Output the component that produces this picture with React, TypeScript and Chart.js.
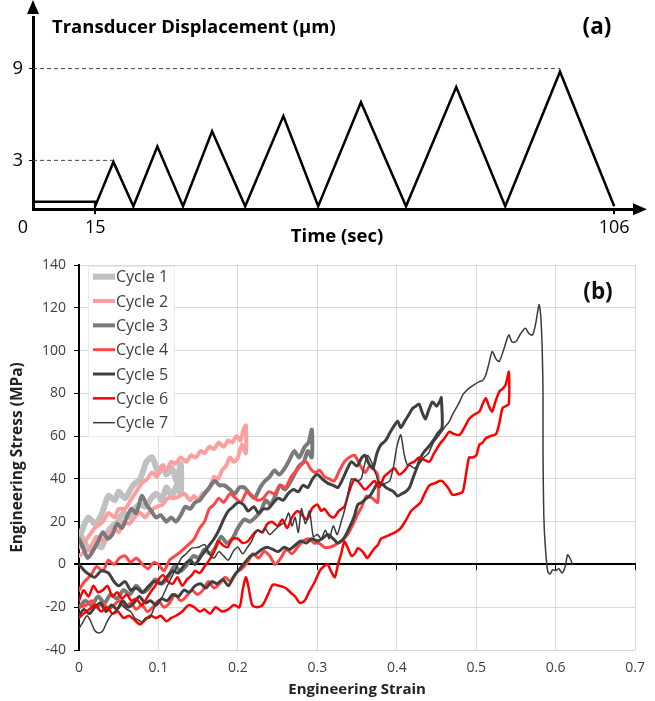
import React, { useEffect, useRef } from "react";
import { Chart, registerables } from "chart.js";

Chart.register(...registerables);

const FONT = "'Open Sans', 'DejaVu Sans', sans-serif";

// ---------- Panel (a): transducer displacement vs time ----------
const timeSec = [4.1, 15, 15, 18.2, 21.7, 25.9, 30.4, 35.5, 41.3, 48.0, 54.1, 61.6, 69.5, 78.3, 86.9, 96.5, 106];
const displacementUm = [0.3, 0.3, 0, 2.9, 0, 3.9, 0, 4.9, 0, 5.9, 0, 6.8, 0, 7.8, 0, 8.8, 0];
const refLevels = [3, 9];
const refEndTimes = [18.2, 96.5];
const timeTicks = [15, 106];
const dispTicks = [3, 9];

// ---------- Panel (b): engineering stress vs strain ----------
const cycleLabels = ["Cycle 1", "Cycle 2", "Cycle 3", "Cycle 4", "Cycle 5", "Cycle 6", "Cycle 7"];
const cycleColors = ["#c0c0c0", "#ff9e9e", "#7a7a7a", "#ff4545", "#404040", "#ff0000", "#3a3a3a"];
const cycleWidths = [6, 4, 4, 3, 3, 2.5, 1.5];
const strainTicks = [0, 0.1, 0.2, 0.3, 0.4, 0.5, 0.6, 0.7];
const stressTicks = [-40, -20, 0, 20, 40, 60, 80, 100, 120, 140];

const cycle1Strain = [0, 0.006, 0.012, 0.02, 0.028, 0.037, 0.045, 0.05, 0.058, 0.068, 0.077, 0.085, 0.092, 0.1, 0.106, 0.11, 0.117, 0.123, 0.128, 0.128, 0.123, 0.117, 0.11, 0.104, 0.098, 0.091, 0.084, 0.077, 0.07, 0.063, 0.056, 0.049, 0.042, 0.036, 0.028, 0.02, 0.012, 0.005, 0];
const cycle1Stress = [12, 18, 22, 19, 23, 32, 30, 34, 31, 37, 40, 48, 50, 43, 46, 42, 45, 39, 47, 33, 37, 32, 36, 30, 33, 31, 27, 28, 26, 22, 24, 20, 18, 15, 8, 10, 7, 12, 14];

const cycle2Strain = [0, 0.01, 0.02, 0.03, 0.037, 0.045, 0.05, 0.058, 0.065, 0.072, 0.079, 0.086, 0.092, 0.098, 0.104, 0.11, 0.116, 0.121, 0.128, 0.135, 0.141, 0.147, 0.153, 0.158, 0.164, 0.17, 0.176, 0.182, 0.188, 0.193, 0.198, 0.203, 0.207, 0.21, 0.21, 0.205, 0.2, 0.195, 0.19, 0.185, 0.18, 0.175, 0.17, 0.165, 0.16, 0.155, 0.15, 0.145, 0.14, 0.133, 0.127, 0.12, 0.112, 0.105, 0.098, 0.09, 0.083, 0.077, 0.07, 0.063, 0.056, 0.05, 0.044, 0.037, 0.03, 0.022, 0.015, 0.008, 0];
const cycle2Stress = [8, 12, 17, 20, 24, 22, 26, 26, 30, 34, 38, 40, 43, 41, 46, 44, 48, 47, 50, 48, 51, 50, 53, 52, 55, 54, 57, 55, 58, 57, 60, 58, 63, 65, 52, 56, 50, 48, 50, 46, 44, 40, 41, 36, 34, 33, 30, 32, 30, 33, 32, 31, 31, 28, 27, 25, 22, 24, 22, 19, 20, 15, 17, 13, 11, 13, 8, 6, 4];

const cycle3Strain = [0, 0.005, 0.011, 0.017, 0.023, 0.03, 0.036, 0.042, 0.048, 0.054, 0.06, 0.066, 0.072, 0.079, 0.085, 0.091, 0.097, 0.103, 0.11, 0.116, 0.122, 0.128, 0.134, 0.14, 0.146, 0.152, 0.158, 0.164, 0.171, 0.177, 0.183, 0.19, 0.196, 0.202, 0.208, 0.215, 0.221, 0.228, 0.234, 0.24, 0.246, 0.252, 0.259, 0.265, 0.271, 0.277, 0.284, 0.289, 0.293, 0.293, 0.288, 0.283, 0.277, 0.271, 0.265, 0.259, 0.253, 0.247, 0.241, 0.235, 0.229, 0.222, 0.215, 0.208, 0.2, 0.193, 0.186, 0.179, 0.172, 0.165, 0.158, 0.151, 0.144, 0.136, 0.128, 0.12, 0.112, 0.104, 0.096, 0.088, 0.08, 0.072, 0.064, 0.056, 0.048, 0.04, 0.032, 0.024, 0.016, 0.008, 0];
const cycle3Stress = [12, 8, 3, 6, 10, 15, 12, 14, 19, 17, 22, 26, 24, 32, 28, 25, 22, 23, 20, 22, 20, 23, 27, 26, 29, 30, 33, 36, 39, 37, 37, 35, 33, 36, 36, 33, 31, 36, 39, 41, 44, 42, 45, 49, 53, 50, 55, 57, 63, 50, 53, 48, 46, 42, 38, 35, 37, 32, 28, 30, 25, 22, 20, 21, 17, 12, 10, 13, 8, 5, 7, 3, 4, 0, -3, -1, -6, -9, -7, -11, -13, -10, -14, -12, -16, -14, -18, -15, -19, -17, -20];

const cycle4Strain = [0, 0.007, 0.015, 0.022, 0.03, 0.037, 0.044, 0.051, 0.058, 0.065, 0.072, 0.08, 0.087, 0.094, 0.1, 0.107, 0.114, 0.121, 0.128, 0.137, 0.145, 0.152, 0.158, 0.164, 0.17, 0.176, 0.182, 0.19, 0.197, 0.204, 0.211, 0.218, 0.225, 0.232, 0.239, 0.246, 0.253, 0.26, 0.267, 0.274, 0.281, 0.286, 0.291, 0.297, 0.303, 0.309, 0.315, 0.321, 0.328, 0.334, 0.34, 0.347, 0.353, 0.36, 0.366, 0.372, 0.376, 0.376, 0.369, 0.362, 0.356, 0.35, 0.344, 0.338, 0.33, 0.322, 0.315, 0.309, 0.302, 0.296, 0.289, 0.282, 0.275, 0.268, 0.261, 0.254, 0.247, 0.24, 0.233, 0.226, 0.219, 0.212, 0.205, 0.198, 0.191, 0.184, 0.177, 0.17, 0.163, 0.156, 0.149, 0.142, 0.135, 0.128, 0.121, 0.114, 0.107, 0.1, 0.093, 0.086, 0.079, 0.072, 0.065, 0.058, 0.051, 0.044, 0.037, 0.03, 0.023, 0.016, 0.009, 0];
const cycle4Stress = [-12, -8, -5, -1, -3, 2, 0, 3, 4, 1, 3, 0, -2, 1, 0, -3, 2, 4, 6, 9, 12, 17, 20, 26, 28, 31, 29, 33, 31, 29, 34, 32, 30, 31, 34, 33, 37, 36, 41, 44, 47, 48, 45, 43, 44, 41, 40, 39, 44, 48, 50, 51, 47, 43, 46, 44, 42, 29, 31, 32, 27, 23, 18, 14, 11, 9, 8, 8, 10, 10, 12, 11, 8, 5, 7, 3, 0, 4, 6, 3, 5, 1, -2, -4, -8, -6, -9, -11, -8, -12, -14, -12, -15, -17, -14, -18, -20, -17, -20, -22, -19, -21, -18, -20, -17, -19, -21, -18, -20, -17, -19, -20];

const cycle5Strain = [0, 0.007, 0.014, 0.02, 0.028, 0.037, 0.044, 0.05, 0.058, 0.065, 0.072, 0.08, 0.088, 0.095, 0.103, 0.11, 0.118, 0.125, 0.133, 0.14, 0.146, 0.154, 0.162, 0.17, 0.176, 0.182, 0.188, 0.194, 0.2, 0.207, 0.213, 0.22, 0.226, 0.232, 0.238, 0.245, 0.251, 0.257, 0.263, 0.27, 0.276, 0.282, 0.288, 0.294, 0.3, 0.306, 0.313, 0.32, 0.326, 0.332, 0.338, 0.343, 0.35, 0.356, 0.36, 0.365, 0.37, 0.375, 0.38, 0.386, 0.392, 0.397, 0.401, 0.405, 0.41, 0.415, 0.42, 0.424, 0.428, 0.432, 0.436, 0.44, 0.445, 0.45, 0.455, 0.456, 0.457, 0.451, 0.446, 0.44, 0.435, 0.43, 0.425, 0.42, 0.416, 0.411, 0.406, 0.401, 0.396, 0.391, 0.386, 0.381, 0.376, 0.371, 0.366, 0.362, 0.356, 0.351, 0.346, 0.34, 0.333, 0.326, 0.32, 0.313, 0.306, 0.3, 0.293, 0.286, 0.279, 0.272, 0.265, 0.258, 0.251, 0.244, 0.237, 0.23, 0.223, 0.216, 0.209, 0.2, 0.194, 0.188, 0.181, 0.174, 0.167, 0.16, 0.153, 0.146, 0.139, 0.132, 0.125, 0.118, 0.111, 0.104, 0.097, 0.09, 0.083, 0.076, 0.069, 0.062, 0.055, 0.048, 0.041, 0.034, 0.027, 0.02, 0.013, 0.006, 0];
const cycle5Stress = [0, -3, -5, -6, -3, -4, -8, -10, -8, -12, -11, -13, -10, -8, -9, -6, -3, -4, 0, 2, 0, 4, 8, 12, 16, 21, 25, 27, 29, 28, 25, 27, 24, 26, 26, 29, 31, 30, 33, 35, 34, 37, 36, 40, 42, 40, 38, 37, 36, 40, 45, 48, 46, 50, 51, 47, 45, 52, 56, 58, 62, 65, 67, 64, 67, 70, 73, 74, 75, 71, 68, 72, 76, 74, 77, 78, 64, 61, 58, 55, 53, 50, 45, 40, 36, 34, 33, 32, 34, 35, 36, 38, 38, 35, 32, 31, 29, 28, 22, 17, 12, 10, 12, 14, 12, 11, 12, 10, 11, 9, 7, 8, 6, 7, 8, 7, 5, 4, 1, -3, -6, -10, -7, -9, -8, -11, -9, -10, -13, -12, -15, -14, -17, -16, -19, -17, -18, -15, -18, -20, -17, -21, -19, -22, -18, -20, -23, -21, -24];

const cycle6Strain = [0, 0.006, 0.012, 0.018, 0.024, 0.03, 0.036, 0.042, 0.048, 0.054, 0.06, 0.066, 0.072, 0.079, 0.085, 0.09, 0.096, 0.1, 0.106, 0.112, 0.118, 0.124, 0.13, 0.136, 0.142, 0.146, 0.152, 0.158, 0.164, 0.17, 0.175, 0.181, 0.187, 0.193, 0.2, 0.206, 0.213, 0.219, 0.225, 0.231, 0.237, 0.243, 0.25, 0.256, 0.262, 0.268, 0.275, 0.281, 0.287, 0.293, 0.3, 0.305, 0.309, 0.315, 0.321, 0.327, 0.334, 0.34, 0.347, 0.353, 0.36, 0.366, 0.372, 0.378, 0.384, 0.39, 0.397, 0.403, 0.41, 0.416, 0.422, 0.428, 0.434, 0.441, 0.447, 0.4535, 0.46, 0.466, 0.472, 0.479, 0.485, 0.491, 0.497, 0.504, 0.508, 0.512, 0.516, 0.52, 0.524, 0.529, 0.533, 0.537, 0.541, 0.541, 0.537, 0.533, 0.529, 0.525, 0.518, 0.512, 0.508, 0.504, 0.5, 0.495, 0.491, 0.487, 0.483, 0.477, 0.47, 0.466, 0.462, 0.457, 0.4535, 0.448, 0.441, 0.435, 0.43, 0.424, 0.418, 0.412, 0.405, 0.398, 0.392, 0.386, 0.38, 0.376, 0.372, 0.367, 0.363, 0.357, 0.351, 0.347, 0.343, 0.338, 0.334, 0.33, 0.326, 0.322, 0.317, 0.313, 0.308, 0.303, 0.297, 0.29, 0.284, 0.278, 0.272, 0.266, 0.26, 0.252, 0.244, 0.238, 0.231, 0.224, 0.218, 0.213, 0.21, 0.206, 0.202, 0.195, 0.188, 0.18, 0.172, 0.165, 0.158, 0.152, 0.145, 0.138, 0.13, 0.122, 0.116, 0.11, 0.103, 0.097, 0.09, 0.083, 0.077, 0.07, 0.063, 0.056, 0.049, 0.042, 0.035, 0.028, 0.02, 0.013, 0.006, 0];
const cycle6Stress = [-17, -12, -15, -10, -13, -12, -10, -15, -13, -16, -14, -17, -16, -19, -16, -13, -10, -7, -5, -8, -9, -6, -10, -7, -5, -3, -4, -1, 2, 6, 11, 9, 8, 12, 12, 10, 11, 14, 16, 15, 19, 20, 18, 21, 17, 22, 25, 23, 21, 26, 28, 25, 26, 23, 22, 25, 27, 34, 40, 38, 35, 37, 39, 36, 41, 43, 45, 42, 44, 47, 48, 50, 49, 48, 52, 56, 59, 62, 61, 60.6, 64, 68, 70, 71.5, 75, 77.7, 74, 71.5, 76, 80.8, 82, 84, 90, 75, 74, 73, 66, 61, 60, 59, 57, 56, 51, 50, 50, 42, 34, 33, 32.6, 35, 37, 39, 39, 38, 37, 33, 29, 27, 25, 21, 17, 15, 14, 13, 12, 9, 7.6, 5, 3, 6, 7.6, 5, 4, 8, 10.7, 5, 0, -6, -3, 0, -1, -3, -8, -12.6, -17, -18, -15, -13, -11, -10, -9.5, -14, -19, -20, -19, -10, -6, -12, -20, -19, -21, -22, -20, -23, -21, -22, -20, -19, -22, -24, -25, -26.6, -24, -25, -24, -26, -28, -26, -24, -25, -22, -23, -20, -22, -19, -21, -23, -25];

const cycle7Strain = [0, 0.005, 0.01, 0.014, 0.02, 0.025, 0.03, 0.035, 0.04, 0.045, 0.05, 0.054, 0.06, 0.065, 0.07, 0.075, 0.079, 0.084, 0.089, 0.095, 0.1, 0.104, 0.11, 0.116, 0.122, 0.129, 0.135, 0.142, 0.15, 0.158, 0.164, 0.17, 0.176, 0.182, 0.188, 0.194, 0.2, 0.206, 0.212, 0.217, 0.221, 0.225, 0.23, 0.234, 0.24, 0.246, 0.252, 0.259, 0.264, 0.268, 0.272, 0.276, 0.28, 0.285, 0.29, 0.295, 0.3, 0.305, 0.31, 0.315, 0.32, 0.325, 0.33, 0.334, 0.338, 0.343, 0.349, 0.355, 0.359, 0.363, 0.368, 0.373, 0.377, 0.381, 0.386, 0.391, 0.396, 0.4, 0.405, 0.409, 0.413, 0.418, 0.422, 0.428, 0.434, 0.44, 0.446, 0.4535, 0.46, 0.466, 0.47, 0.4745, 0.479, 0.483, 0.487, 0.491, 0.497, 0.504, 0.508, 0.512, 0.516, 0.52, 0.525, 0.529, 0.535, 0.541, 0.545, 0.55, 0.556, 0.562, 0.566, 0.571, 0.575, 0.579, 0.581, 0.583, 0.584, 0.584, 0.585, 0.587, 0.59, 0.593, 0.596, 0.6, 0.604, 0.608, 0.612, 0.615, 0.619, 0.621];
const cycle7Stress = [-30, -27, -24, -26, -31, -32, -31, -27, -24, -22, -20, -19, -21, -22, -25, -26, -27, -25, -25, -20, -17, -15.7, -11, -6.4, -2, 3, 5, 7.6, 8, 9.3, 5, 3, 6, 4, 2, 6, 8, 5, 8, 10.7, 14, 16, 15, 17, 14, 16, 18, 20, 24, 18, 22, 15, 26, 19, 25, 13, 14, 12, 16, 12, 18, 14, 20, 25, 32, 40, 39, 40, 46, 51, 48, 43, 39, 37, 38, 39, 46, 55, 60.6, 52, 46.7, 46, 45, 47, 50, 52, 57, 60.6, 64, 66.8, 70, 73, 76, 79.3, 81, 82.4, 84, 85.5, 86, 88.6, 94, 99.5, 96, 94.9, 101, 107.3, 104, 104.2, 108, 110.4, 108, 107.3, 113, 121.4, 117, 101, 80, 54, 23, 8, -3.3, -4.5, -2.5, -2.8, -2, -4, -1, 4.5, 2.2, 0];

const cycleStrains = [cycle1Strain, cycle2Strain, cycle3Strain, cycle4Strain, cycle5Strain, cycle6Strain, cycle7Strain];
const cycleStresses = [cycle1Stress, cycle2Stress, cycle3Stress, cycle4Stress, cycle5Stress, cycle6Stress, cycle7Stress];

function zip(xs: number[], ys: number[]) {
  return xs.map((x, i) => ({ x, y: ys[i] }));
}

const panelAPlugin = {
  id: "panelADecor",
  afterDraw(chart: any) {
    const { ctx, chartArea } = chart;
    const ax = chartArea.left;
    const by = chartArea.bottom;
    ctx.save();
    ctx.fillStyle = "#000";
    // y-axis arrow
    ctx.beginPath();
    ctx.moveTo(ax, 0);
    ctx.lineTo(ax - 6, 14);
    ctx.lineTo(ax + 6, 14);
    ctx.closePath();
    ctx.fill();
    // x-axis arrow
    ctx.beginPath();
    ctx.moveTo(chartArea.right + 6, by);
    ctx.lineTo(chartArea.right - 8, by - 6);
    ctx.lineTo(chartArea.right - 8, by + 6);
    ctx.closePath();
    ctx.fill();
    ctx.textBaseline = "middle";
    ctx.textAlign = "left";
    ctx.font = `bold 18.5px ${FONT}`;
    ctx.fillText("Transducer Displacement (µm)", 52, 28);
    ctx.textAlign = "center";
    ctx.font = `bold 22.5px ${FONT}`;
    ctx.fillText("(a)", 597, 28);
    ctx.font = `18px ${FONT}`;
    ctx.fillText("0", 23, 228);
    ctx.restore();
  },
};

const panelBPlugin = {
  id: "panelBDecor",
  afterDraw(chart: any) {
    const { ctx } = chart;
    ctx.save();
    ctx.fillStyle = "#fff";
    ctx.fillRect(88, 18, 87, 171);
    ctx.strokeStyle = "#ececec";
    ctx.lineWidth = 1;
    ctx.strokeRect(88.5, 18.5, 86, 170);
    chart.data.datasets.forEach((ds: any, i: number) => {
      const y = 28.7 + i * 24.33;
      ctx.strokeStyle = ds.borderColor;
      ctx.lineWidth = ds.borderWidth;
      ctx.beginPath();
      ctx.moveTo(93, y);
      ctx.lineTo(115, y);
      ctx.stroke();
      ctx.fillStyle = "#404040";
      ctx.font = `16px ${FONT}`;
      ctx.textBaseline = "middle";
      ctx.textAlign = "left";
      ctx.fillText(ds.label, 116, y + 1);
    });
    ctx.fillStyle = "#111";
    ctx.font = `bold 22.5px ${FONT}`;
    ctx.textAlign = "center";
    ctx.fillText("(b)", 598, 45);
    ctx.restore();
  },
};

export default function App() {
  const refA = useRef<HTMLCanvasElement>(null);
  const refB = useRef<HTMLCanvasElement>(null);

  useEffect(() => {
    Chart.defaults.font.family = FONT;
    const xMinA = 4.1;
    const chartA = new Chart(refA.current as HTMLCanvasElement, {
      type: "scatter",
      data: {
        datasets: [
          {
            data: zip(timeSec, displacementUm),
            showLine: true,
            borderColor: "#000",
            borderWidth: 2.5,
            pointRadius: 0,
            tension: 0,
          } as any,
          ...refLevels.map((lv, i) => ({
            data: [
              { x: xMinA, y: lv },
              { x: refEndTimes[i], y: lv },
            ],
            showLine: true,
            borderColor: "#444",
            borderWidth: 1,
            borderDash: [4, 3],
            pointRadius: 0,
          })),
        ],
      },
      options: {
        responsive: false,
        animation: false,
        layout: { padding: { left: 0, right: 14, top: 4, bottom: 0 } },
        plugins: { legend: { display: false }, tooltip: { enabled: false } },
        scales: {
          x: {
            type: "linear",
            min: xMinA,
            max: 110.7,
            afterBuildTicks: (s: any) => {
              s.ticks = timeTicks.map((v) => ({ value: v }));
            },
            afterFit: (s: any) => {
              s.height = 38.7;
            },
            grid: { drawOnChartArea: false, drawTicks: true, tickLength: 5, tickColor: "#000", lineWidth: 2 },
            border: { display: true, color: "#000", width: 3 },
            ticks: { padding: 3, color: "#000", font: { size: 18 }, autoSkip: false, maxRotation: 0 },
            title: {
              display: true,
              text: "Time (sec)",
              color: "#000",
              font: { size: 18.5, weight: "bold" },
              padding: { top: 0, bottom: 0 },
            },
          },
          y: {
            type: "linear",
            min: -0.2,
            max: 12.37,
            afterBuildTicks: (s: any) => {
              s.ticks = dispTicks.map((v) => ({ value: v }));
            },
            afterFit: (s: any) => {
              s.width = 33;
            },
            grid: { drawOnChartArea: false, drawTicks: true, tickLength: 4, tickColor: "#000" },
            border: { display: true, color: "#000", width: 3 },
            ticks: { padding: 6, color: "#000", font: { size: 18.5 } },
          },
        },
      } as any,
      plugins: [panelAPlugin],
    });

    const chartB = new Chart(refB.current as HTMLCanvasElement, {
      type: "scatter",
      data: {
        datasets: cycleLabels.map((label, i) => ({
          label,
          data: zip(cycleStrains[i], cycleStresses[i]),
          showLine: true,
          borderColor: cycleColors[i],
          backgroundColor: cycleColors[i],
          borderWidth: cycleWidths[i],
          pointRadius: 0,
          tension: 0.25,
          borderJoinStyle: "round",
          borderCapStyle: "round",
          order: 7 - i,
          xAxisID: "x",
          yAxisID: "y",
        })) as any,
      },
      options: {
        responsive: false,
        animation: false,
        layout: { padding: { left: 0, right: 19, top: 17, bottom: 0 } },
        plugins: { legend: { display: false }, tooltip: { enabled: false } },
        scales: {
          x: {
            type: "linear",
            min: 0,
            max: 0.7,
            afterBuildTicks: (s: any) => {
              s.ticks = strainTicks.map((v) => ({ value: v }));
            },
            afterFit: (s: any) => {
              s.height = 51;
            },
            grid: { color: "#d9d9d9", lineWidth: 1, drawTicks: false },
            border: { display: false },
            ticks: {
              padding: 10,
              color: "#404040",
              font: { size: 14 },
              autoSkip: false,
              maxRotation: 0,
              callback: (v: any) => String(Math.round(Number(v) * 10) / 10),
            },
            title: {
              display: true,
              text: "Engineering Strain",
              color: "#222",
              font: { size: 15, weight: "bold" },
              padding: { top: 0, bottom: 2 },
            },
          },
          x2: {
            type: "linear",
            axis: "x",
            position: { y: 0 },
            min: 0,
            max: 0.7,
            afterBuildTicks: (s: any) => {
              s.ticks = strainTicks.map((v) => ({ value: v }));
            },
            grid: { drawOnChartArea: false, drawTicks: true, tickLength: 5, tickColor: "#000", color: "#000" },
            border: { display: true, color: "#000", width: 2 },
            ticks: { display: false },
          },
          y: {
            type: "linear",
            min: -40,
            max: 140,
            afterBuildTicks: (s: any) => {
              s.ticks = stressTicks.map((v) => ({ value: v }));
            },
            afterFit: (s: any) => {
              s.width = 79;
            },
            grid: {
              color: (c: any) => (c.tick && c.tick.value === 0 ? "#000" : "#d9d9d9"),
              lineWidth: (c: any) => (c.tick && c.tick.value === 0 ? 2 : 1),
              drawTicks: true,
              tickLength: 5,
              tickColor: "#000",
            },
            border: { display: true, color: "#000", width: 2 },
            ticks: { padding: 8, color: "#404040", font: { size: 14 }, callback: (v: any) => String(v) },
            title: {
              display: true,
              text: "Engineering Stress (MPa)",
              color: "#222",
              font: { size: 15.5, weight: "bold" },
              padding: { top: 8, bottom: 0 },
            },
          },
        },
      } as any,
      plugins: [panelBPlugin],
    });

    return () => {
      chartA.destroy();
      chartB.destroy();
    };
  }, []);

  return (
    <div style={{ position: "absolute", left: 0, top: 0, width: 655, height: 701, background: "#fff" }}>
      <canvas ref={refA} width={655} height={248} style={{ display: "block" }} />
      <canvas ref={refB} width={655} height={453} style={{ display: "block" }} />
    </div>
  );
}
